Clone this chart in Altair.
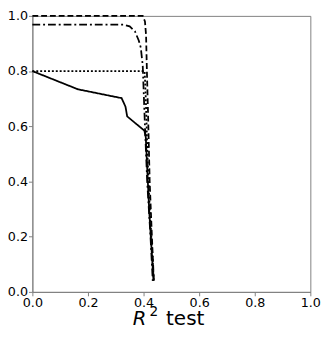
import altair as alt
import pandas as pd

# Series values
dashed_x = [0.0, 0.397, 0.405, 0.409, 0.412, 0.416, 0.422, 0.430, 0.437]
dashed_y = [1.0, 1.0, 0.98, 0.93, 0.80, 0.65, 0.40, 0.20, 0.04]

dashdot_x = [0.0, 0.328, 0.350, 0.369, 0.383, 0.390, 0.397, 0.405, 0.413, 0.425, 0.433]
dashdot_y = [0.968, 0.968, 0.962, 0.944, 0.910, 0.885, 0.820, 0.60, 0.40, 0.20, 0.04]

dotted_x = [0.0, 0.404, 0.408, 0.414, 0.420, 0.428, 0.437]
dotted_y = [0.80, 0.80, 0.70, 0.50, 0.35, 0.20, 0.04]

solid_x = [0.0, 0.164, 0.321, 0.335, 0.341, 0.372, 0.403, 0.408, 0.413, 0.420, 0.426, 0.432, 0.436]
solid_y = [0.80, 0.734, 0.702, 0.671, 0.636, 0.610, 0.584, 0.560, 0.45, 0.30, 0.20, 0.10, 0.04]

ticks = [0.0, 0.2, 0.4, 0.6, 0.8, 1.0]
series_names = ["dashed", "dashdot", "dotted", "solid"]
series_x = [dashed_x, dashdot_x, dotted_x, solid_x]
series_y = [dashed_y, dashdot_y, dotted_y, solid_y]

rows = []
for name, xs, ys in zip(series_names, series_x, series_y):
    for i, (xv, yv) in enumerate(zip(xs, ys)):
        rows.append({"series": name, "order": i, "x": xv, "y": yv})
df = pd.DataFrame(rows)

W, H = 285, 283

lines = alt.Chart(df).mark_line(color="black", strokeWidth=1.8).encode(
    x=alt.X("x:Q", scale=alt.Scale(domain=[0, 1], nice=False),
            axis=alt.Axis(values=ticks, format=".1f", title=None, grid=False)),
    y=alt.Y("y:Q", scale=alt.Scale(domain=[0, 1], nice=False),
            axis=alt.Axis(values=ticks, format=".1f", title=None, grid=False)),
    strokeDash=alt.StrokeDash("series:N",
        scale=alt.Scale(domain=series_names,
                        range=[[6, 3], [8, 3, 2, 3], [2, 2], [1, 0]]),
        legend=None),
    order="order:O",
    detail="series:N",
)

font = "DejaVu Sans"
t_r = alt.Chart(pd.DataFrame({"t": ["R"]})).mark_text(
    font=font, fontSize=20, fontStyle="italic", align="left", baseline="alphabetic", color="black"
).encode(text="t:N", x=alt.value(103), y=alt.value(317))
t_2 = alt.Chart(pd.DataFrame({"t": ["2"]})).mark_text(
    font=font, fontSize=14, align="left", baseline="alphabetic", color="black"
).encode(text="t:N", x=alt.value(120), y=alt.value(308))
t_test = alt.Chart(pd.DataFrame({"t": ["test"]})).mark_text(
    font=font, fontSize=20.5, align="left", baseline="alphabetic", color="black"
).encode(text="t:N", x=alt.value(137), y=alt.value(317))

chart = alt.layer(lines, t_r, t_2, t_test).properties(
    width=W, height=H,
    autosize=alt.AutoSizeParams(type="none"),
    padding={"left": 25, "top": 4, "right": 14, "bottom": 36},
).configure_view(
    stroke="#808080", strokeWidth=1
).configure_axis(
    domainColor="#808080", domainWidth=1,
    tickColor="#808080", tickSize=4, tickWidth=1,
    labelFont=font, labelFontSize=13, labelColor="black", labelPadding=1,
    labelFlush=False,
)

chart.save("out.html", embed_options={"renderer": "svg", "actions": False})
